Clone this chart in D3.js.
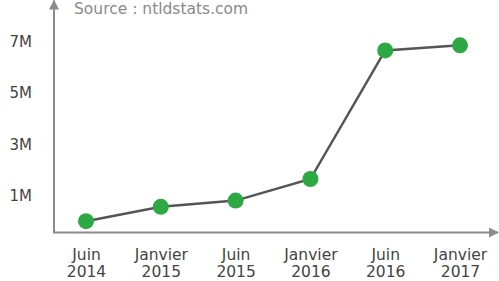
<!DOCTYPE html>
<html>
<head>
<meta charset="utf-8">
<script src="https://cdn.jsdelivr.net/npm/d3@7"></script>
<style>
  body { margin: 0; background: #fff; }
  svg text { font-family: "DejaVu Sans", sans-serif; }
</style>
</head>
<body>
<svg id="chart" width="499" height="281"></svg>
<script>
const categories = ['Juin 2014', 'Janvier 2015', 'Juin 2015', 'Janvier 2016', 'Juin 2016', 'Janvier 2017'];
const values = [0.02, 0.58, 0.82, 1.66, 6.66, 6.86]; // millions of domains
const yTicks = [1, 3, 5, 7];
const source = 'Source : ntldstats.com';

const svg = d3.select('#chart');
const axisColor = '#8c8c8c';
const textColor = '#444';

const x = d3.scalePoint().domain(categories).range([86, 460]);
const y = d3.scaleLinear().domain([0, 7]).range([221.7, 41.7]);

// arrow marker
svg.append('defs').append('marker')
  .attr('id', 'arrow').attr('viewBox', '0 0 10 10')
  .attr('refX', 9).attr('refY', 5)
  .attr('markerWidth', 5).attr('markerHeight', 5)
  .attr('markerUnits', 'strokeWidth')
  .attr('orient', 'auto')
  .append('path').attr('d', 'M0,0 L10,5 L0,10 z').attr('fill', axisColor);

// axes lines with arrows
const originX = 54, originY = 232.5;
svg.append('line')
  .attr('x1', originX).attr('y1', originY).attr('x2', originX).attr('y2', 0.5)
  .attr('stroke', axisColor).attr('stroke-width', 2).attr('marker-end', 'url(#arrow)');
svg.append('line')
  .attr('x1', originX - 1).attr('y1', originY).attr('x2', 498).attr('y2', originY)
  .attr('stroke', axisColor).attr('stroke-width', 2).attr('marker-end', 'url(#arrow)');

// y labels
const yAxis = svg.append('g').attr('transform', 'translate(32,0)')
  .call(d3.axisLeft(y).tickValues(yTicks).tickFormat(d => d + 'M').tickSize(0).tickPadding(0));
yAxis.select('.domain').remove();
yAxis.selectAll('text').attr('fill', textColor).style('font-size', '15px');

// x labels (two lines)
const xAxis = svg.append('g').attr('transform', `translate(0,${originY})`)
  .call(d3.axisBottom(x).tickSize(0));
xAxis.select('.domain').remove();
xAxis.selectAll('text').each(function(d) {
  const parts = d.split(' ');
  const t = d3.select(this).text(null).attr('fill', textColor).style('font-size', '15.5px').attr('y', 0).attr('dy', null);
  parts.forEach((p, i) => t.append('tspan').attr('x', 0).attr('y', 27 + i * 17.5).text(p));
});

// source
svg.append('text').attr('x', 74).attr('y', 14)
  .attr('fill', '#8a8a8a').style('font-size', '15.5px').text(source);

// line
const data = categories.map((c, i) => ({ c, v: values[i] }));
svg.append('path').datum(data)
  .attr('fill', 'none').attr('stroke', '#555').attr('stroke-width', 2.5)
  .attr('d', d3.line().x(d => x(d.c)).y(d => y(d.v)));

svg.selectAll('circle.dot').data(data).enter().append('circle')
  .attr('class', 'dot')
  .attr('cx', d => x(d.c)).attr('cy', d => y(d.v)).attr('r', 8)
  .attr('fill', '#2ca943');
</script>
</body>
</html>
